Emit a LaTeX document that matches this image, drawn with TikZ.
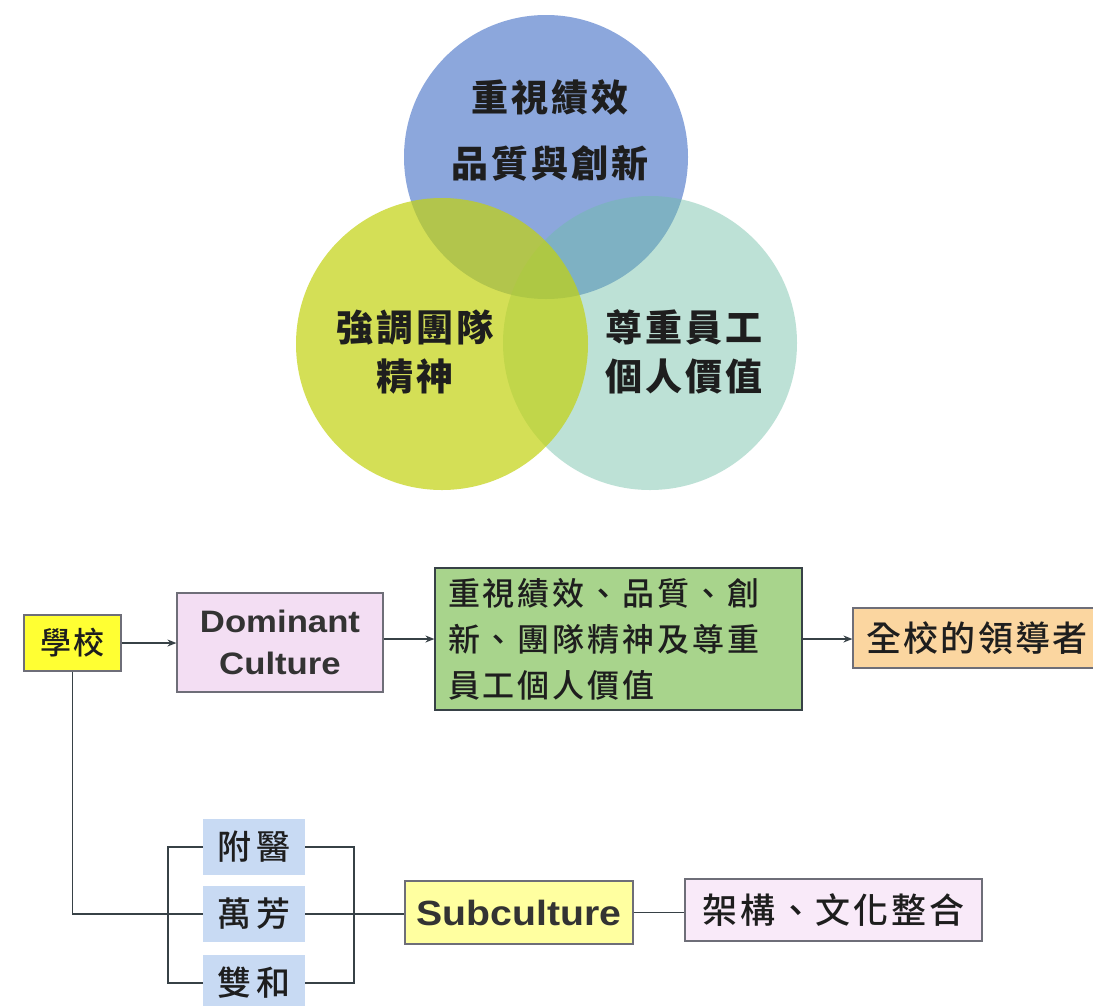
\documentclass[tikz,border=0pt]{standalone}
\usepackage{fontspec}
\usetikzlibrary{arrows.meta}
\newfontfamily\cjk{Noto Sans CJK TC}
\newfontfamily\cjkm{Noto Sans CJK TC Medium}
\newfontfamily\arialf[FakeStretch=1.12]{Liberation Sans}
\definecolor{cblue}{RGB}{140,167,220}
\definecolor{cgreen}{RGB}{110,190,165}
\definecolor{cyel}{RGB}{195,210,15}
\definecolor{bxyel}{RGB}{255,255,51}
\definecolor{bxpink}{RGB}{243,222,243}
\definecolor{bxgreen}{RGB}{168,212,140}
\definecolor{bxorange}{RGB}{251,214,160}
\definecolor{bxlyel}{RGB}{255,255,160}
\definecolor{bxlpink}{RGB}{249,234,249}
\definecolor{bxblue}{RGB}{200,218,243}
\definecolor{edgec}{RGB}{110,110,120}
\definecolor{ink}{RGB}{30,30,30}
\definecolor{latin}{RGB}{51,51,51}
\definecolor{wirec}{RGB}{55,65,70}
\tikzset{
  box/.style={draw=edgec, line width=1.2pt, inner sep=0pt, text=ink},
  bluebox/.style={fill=bxblue, inner sep=0pt, text=ink, minimum width=102pt, minimum height=56pt,
    font=\cjkm\fontsize{34}{34}\selectfont\addfontfeatures{LetterSpace=17}},
  wire/.style={draw=wirec, line width=1.4pt},
  arr/.style={wire, -{Stealth[length=9pt,width=7pt]}},
  ring/.style={circle, inner sep=0pt},
  ctext/.style={align=center, text=ink},
}
\begin{document}
\begin{tikzpicture}[x=1pt,y=-1pt]
\fill[white] (0,0) rectangle (1093,1005);
\useasboundingbox (0,0) rectangle (1093,1005);

% Venn circles
\node[ring, minimum size=284pt, fill=cblue] (cb) at (546,157) {};
\node[ring, minimum size=294pt, fill=cgreen, fill opacity=0.45] (cg) at (650,343) {};
\node[ring, minimum size=292pt, fill=cyel, fill opacity=0.7] (cy) at (442,344) {};

\node[ctext, font=\cjk\bfseries\fontsize{37}{66}\selectfont\addfontfeatures{LetterSpace=8}] (tb) at (550,130) {重視績效\\品質與創新};
\node[ctext, font=\cjk\bfseries\fontsize{37}{49}\selectfont\addfontfeatures{LetterSpace=8}] (ty) at (415,352) {強調團隊\\精神};
\node[ctext, font=\cjk\bfseries\fontsize{37}{49}\selectfont\addfontfeatures{LetterSpace=8}] (tg) at (684,352) {尊重員工\\個人價值};

% flow chart
\node[box, fill=bxyel, minimum width=97pt, minimum height=56pt,
  font=\cjkm\fontsize{31}{31}\selectfont\addfontfeatures{LetterSpace=6}] (school) at (72.5,643) {學校};
\node[box, fill=bxpink, minimum width=206pt, minimum height=99pt, align=center, text=latin,
  font=\arialf\bfseries\fontsize{31}{42}\selectfont] (dom) at (280,642.5) {Dominant\\Culture};
\node[box, fill=bxgreen, draw=wirec, minimum width=367pt, minimum height=142pt, text width=341pt, align=left,
  font=\cjkm\fontsize{32}{46}\selectfont\addfontfeatures{LetterSpace=9}] (gbox) at (618.5,639) {重視績效、品質、創\\新、團隊精神及尊重\\員工個人價值};
\node[box, fill=bxorange, minimum width=248pt, minimum height=60pt,
  font=\cjkm\fontsize{35}{35}\selectfont\addfontfeatures{LetterSpace=6}] (lead) at (977,638) {全校的領導者};

\node[bluebox] (b1) at (254,847) {\raisebox{-4pt}{附醫}};
\node[bluebox] (b2) at (254,914) {\raisebox{-2pt}{萬芳}};
\node[bluebox] (b3) at (254,983) {雙和};

\node[box, fill=bxlyel, minimum width=228pt, minimum height=63pt, text=latin,
  font=\arialf\bfseries\fontsize{35}{35}\selectfont] (sub) at (519,912.5) {Subculture};
\node[box, fill=bxlpink, minimum width=297pt, minimum height=62pt,
  font=\cjkm\fontsize{35}{35}\selectfont\addfontfeatures{LetterSpace=8}] (frame) at (833.5,910) {架構、文化整合};

\coordinate (bl) at (168,914);
\coordinate (br) at (354,914);

\draw[arr] (school.east) -- (school.east -| dom.west);
\draw[arr] (dom.east |- gbox.west) -- (gbox.west);
\draw[arr] (gbox.east) -- (gbox.east -| lead.west);
\draw[wire] (school.south) -- (school.south |- b2.west) -- (b2.west);
\draw[wire] (b1.west) -- (b1.west -| bl) -- (b3.west -| bl) -- (b3.west);
\draw[wire] (b1.east) -- (b1.east -| br) -- (b3.east -| br) -- (b3.east);
\draw[wire] (b2.east) -- (b2.east -| sub.west);
\draw[wire] (sub.east) -- (sub.east -| frame.west);
\end{tikzpicture}
\end{document}
